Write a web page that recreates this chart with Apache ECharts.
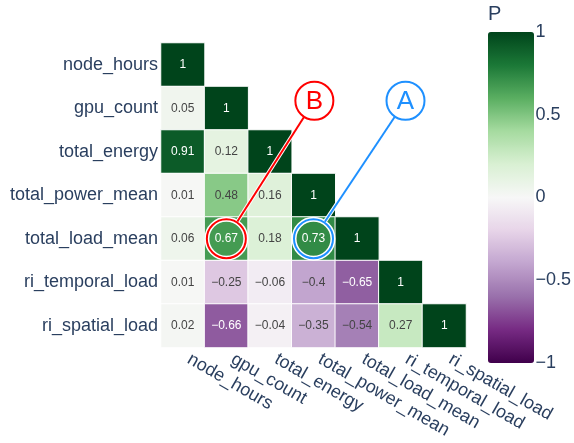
<!DOCTYPE html>
<html>
<head>
<meta charset="utf-8">
<script src="https://cdn.jsdelivr.net/npm/echarts@6/dist/echarts.min.js"></script>
<style>
  html, body { margin: 0; padding: 0; background: #fff; }
  #chart { width: 574px; height: 443px; }
</style>
</head>
<body>
<div id="chart"></div>
<script>
// variables, top to bottom / left to right
const vars = ["node_hours", "gpu_count", "total_energy", "total_power_mean",
  "total_load_mean", "ri_temporal_load", "ri_spatial_load"];

// lower triangle of the correlation matrix, one row per variable
const corr = [
  [1],
  [0.05, 1],
  [0.91, 0.12, 1],
  [0.01, 0.48, 0.16, 1],
  [0.06, 0.67, 0.18, 0.73, 1],
  [0.01, -0.25, -0.06, -0.4, -0.65, 1],
  [0.02, -0.66, -0.04, -0.35, -0.54, 0.27, 1]
];

const cbTicks = [-1, -0.5, 0, 0.5, 1];

// PRGn
const prgn = ["rgb(64,0,75)", "rgb(118,42,131)", "rgb(153,112,171)", "rgb(194,165,207)",
  "rgb(231,212,232)", "rgb(247,247,247)", "rgb(217,240,211)", "rgb(166,219,160)",
  "rgb(90,174,97)", "rgb(27,120,55)", "rgb(0,68,27)"];

// annotated cells: [row, col]
const marks = [
  { label: "B", row: 4, col: 1, color: "#ff0000", dx: 88, dy: -138 },
  { label: "A", row: 4, col: 3, color: "#1e90ff", dx: 92, dy: -138 }
];

const textColor = "#2a3f5f";
const minus = v => String(v).replace("-", "\u2212");

const cells = [];
corr.forEach((row, r) => {
  row.forEach((v, c) => {
    cells.push({
      value: [c, r, v],
      label: { color: Math.abs(v) >= 0.6 ? "#ffffff" : "#444444" }
    });
  });
});

const chart = echarts.init(document.getElementById("chart"));

chart.setOption({
  animation: false,
  backgroundColor: "#fff",
  textStyle: { fontFamily: "Liberation Sans, Arial, sans-serif" },
  title: {
    text: "P", left: 488, top: 4, padding: 0,
    textStyle: { fontSize: 20, fontWeight: "normal", color: textColor }
  },
  grid: [
    { left: 161, top: 43, width: 305, height: 304.5 },
    { left: 488, top: 32, width: 46, height: 331 }
  ],
  xAxis: [
    {
      type: "category", data: vars, gridIndex: 0,
      axisLine: { show: false }, axisTick: { show: false },
      splitArea: { show: false },
      axisLabel: { rotate: -30, interval: 0, fontSize: 18, color: textColor, margin: 7,
        padding: [0, 0, 0, 7] }
    },
    { type: "value", gridIndex: 1, show: false }
  ],
  yAxis: [
    {
      type: "category", data: vars, inverse: true, gridIndex: 0,
      axisLine: { show: false }, axisTick: { show: false },
      splitArea: { show: false },
      axisLabel: { fontSize: 18, color: textColor, margin: 3, padding: [4, 0, 0, 0] }
    },
    {
      type: "value", gridIndex: 1, position: "right",
      min: -1, max: 1, interval: 0.5,
      axisLine: { show: false }, axisTick: { show: false }, splitLine: { show: false },
      axisLabel: { fontSize: 18, color: textColor, margin: 5, padding: [5, 0, 0, 0],
        formatter: v => minus(v) }
    }
  ],
  visualMap: {
    type: "continuous", min: -1, max: 1, seriesIndex: 0,
    calculable: false, left: 488, top: 32, padding: 0,
    itemWidth: 46, itemHeight: 331,
    inRange: { color: prgn },
    textStyle: { color: "transparent" }
  },
  series: [
    {
      type: "heatmap", data: cells, xAxisIndex: 0, yAxisIndex: 0,
      itemStyle: { borderColor: "#fff", borderWidth: 1 },
      label: { show: true, fontSize: 12, formatter: p => minus(p.value[2]) },
      emphasis: { disabled: true }
    }
  ]
});

// highlight circles with callout labels
const graphics = [];
marks.forEach(m => {
  const [cx, cy] = chart.convertToPixel({ gridIndex: 0 }, [m.col, m.row]);
  const bx = cx + m.dx, by = cy + m.dy;
  const rs = 19.5, rb = 19;
  const len = Math.hypot(bx - cx, by - cy);
  const ux = (bx - cx) / len, uy = (by - cy) / len;
  const line = { x1: cx + ux * (rs + 1), y1: cy + uy * (rs + 1), x2: bx - ux * rb, y2: by - uy * rb };
  graphics.push(
    { type: "line", shape: line, style: { stroke: "#fff", lineWidth: 4 }, z: 100 },
    { type: "line", shape: line, style: { stroke: m.color, lineWidth: 2 }, z: 101 },
    { type: "circle", shape: { cx: cx, cy: cy, r: rs }, style: { fill: null, stroke: "#fff", lineWidth: 5 }, z: 100 },
    { type: "circle", shape: { cx: cx, cy: cy, r: rs }, style: { fill: null, stroke: m.color, lineWidth: 2 }, z: 101 },
    { type: "circle", shape: { cx: bx, cy: by, r: rb }, style: { fill: "#fff", stroke: m.color, lineWidth: 2 }, z: 101 },
    {
      type: "text", x: bx, y: by + 1, z: 102,
      style: { text: m.label, fill: m.color, fontSize: 26, align: "center", verticalAlign: "middle",
        fontFamily: "Liberation Sans, Arial, sans-serif" }
    }
  );
});
chart.setOption({ graphic: graphics });
</script>
</body>
</html>
